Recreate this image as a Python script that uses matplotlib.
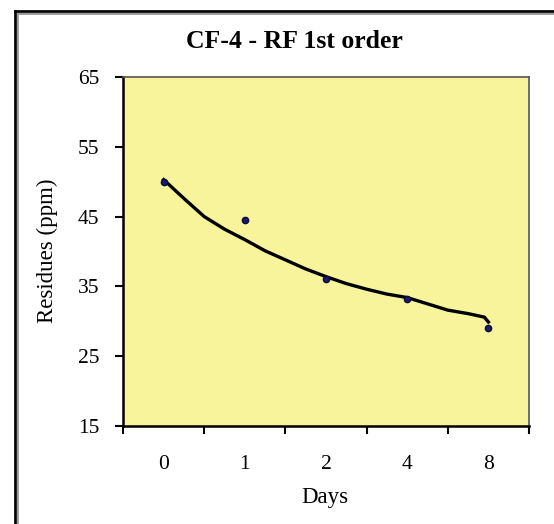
import matplotlib.pyplot as plt
from matplotlib.lines import Line2D

# measured residues
days = ['0', '1', '2', '4', '8']
residues = [49.9, 44.5, 36.1, 33.2, 29.0]

# 1st order fit curve, read at fractional category positions
fit_pos = [0, 0.25, 0.5, 0.75, 1, 1.25, 1.5, 1.75, 2, 2.25, 2.5, 2.75, 3, 3.25, 3.5, 3.75, 3.95, 4]
fit_val = [50.3, 47.6, 45.0, 43.2, 41.7, 40.1, 38.8, 37.5, 36.4, 35.4, 34.6, 33.9, 33.4, 32.5, 31.6, 31.1, 30.6, 29.9]

plt.rcParams['font.family'] = ['Liberation Serif', 'DejaVu Serif']

fig = plt.figure(figsize=(5.54, 5.24), dpi=100)
ax = fig.add_axes([123/554, 1 - 426/524, (529 - 123)/554, (426 - 77)/524])
ax.set_facecolor('#F7F49B')

ax.plot(fit_pos, fit_val, color='black', lw=2.4, zorder=2)
ax.plot(range(len(days)), residues, 'o', color='#1A1A6E', ms=4.5,
        markeredgecolor='#0A0A40', zorder=3)

ax.set_xlim(-0.5, len(days) - 0.5)
ax.set_ylim(15, 65)
ax.set_yticks([15, 25, 35, 45, 55, 65])
ax.set_xticks([i - 0.5 for i in range(len(days) + 1)])
ax.set_xticklabels([])
ax.set_xticks(range(len(days)), minor=True)
ax.set_xticklabels(days, minor=True)
ax.tick_params(axis='x', which='major', direction='out', length=6, width=1.5)
ax.tick_params(axis='x', which='minor', length=0, pad=21, labelsize=15.5)
ax.tick_params(axis='y', direction='out', length=6, width=1.5, pad=11, labelsize=15.5)

for s in ['left', 'bottom']:
    ax.spines[s].set_linewidth(1.8)
    ax.spines[s].set_color('black')
for s in ['top', 'right']:
    ax.spines[s].set_linewidth(1.2)
    ax.spines[s].set_color('#555555')

fig.text(294/554, 1 - 42/524, 'CF-4 - RF 1st order', ha='center', va='center',
         fontsize=18.5, fontweight='bold')
fig.text(325/554, 1 - 498/524, 'Days', ha='center', va='center', fontsize=16.5)
fig.text(47/554, 1 - 251/524, 'Residues (ppm)', ha='center', va='center',
         rotation=90, fontsize=16.5)

# chart border (left and top edges only are visible)
fig.add_artist(Line2D([16/554, 16/554], [0, 1 - 12/524], color='#999999', lw=3.5,
                      transform=fig.transFigure))
fig.add_artist(Line2D([16/554, 1], [1 - 12/524, 1 - 12/524], color='#999999', lw=3.5,
                      transform=fig.transFigure))
fig.add_artist(Line2D([15/554, 15/554], [0, 1 - 11/524], color='black', lw=1.8,
                      transform=fig.transFigure))
fig.add_artist(Line2D([15/554, 1], [1 - 11/524, 1 - 11/524], color='black', lw=1.8,
                      transform=fig.transFigure))

fig.savefig('out.png', dpi=100)
